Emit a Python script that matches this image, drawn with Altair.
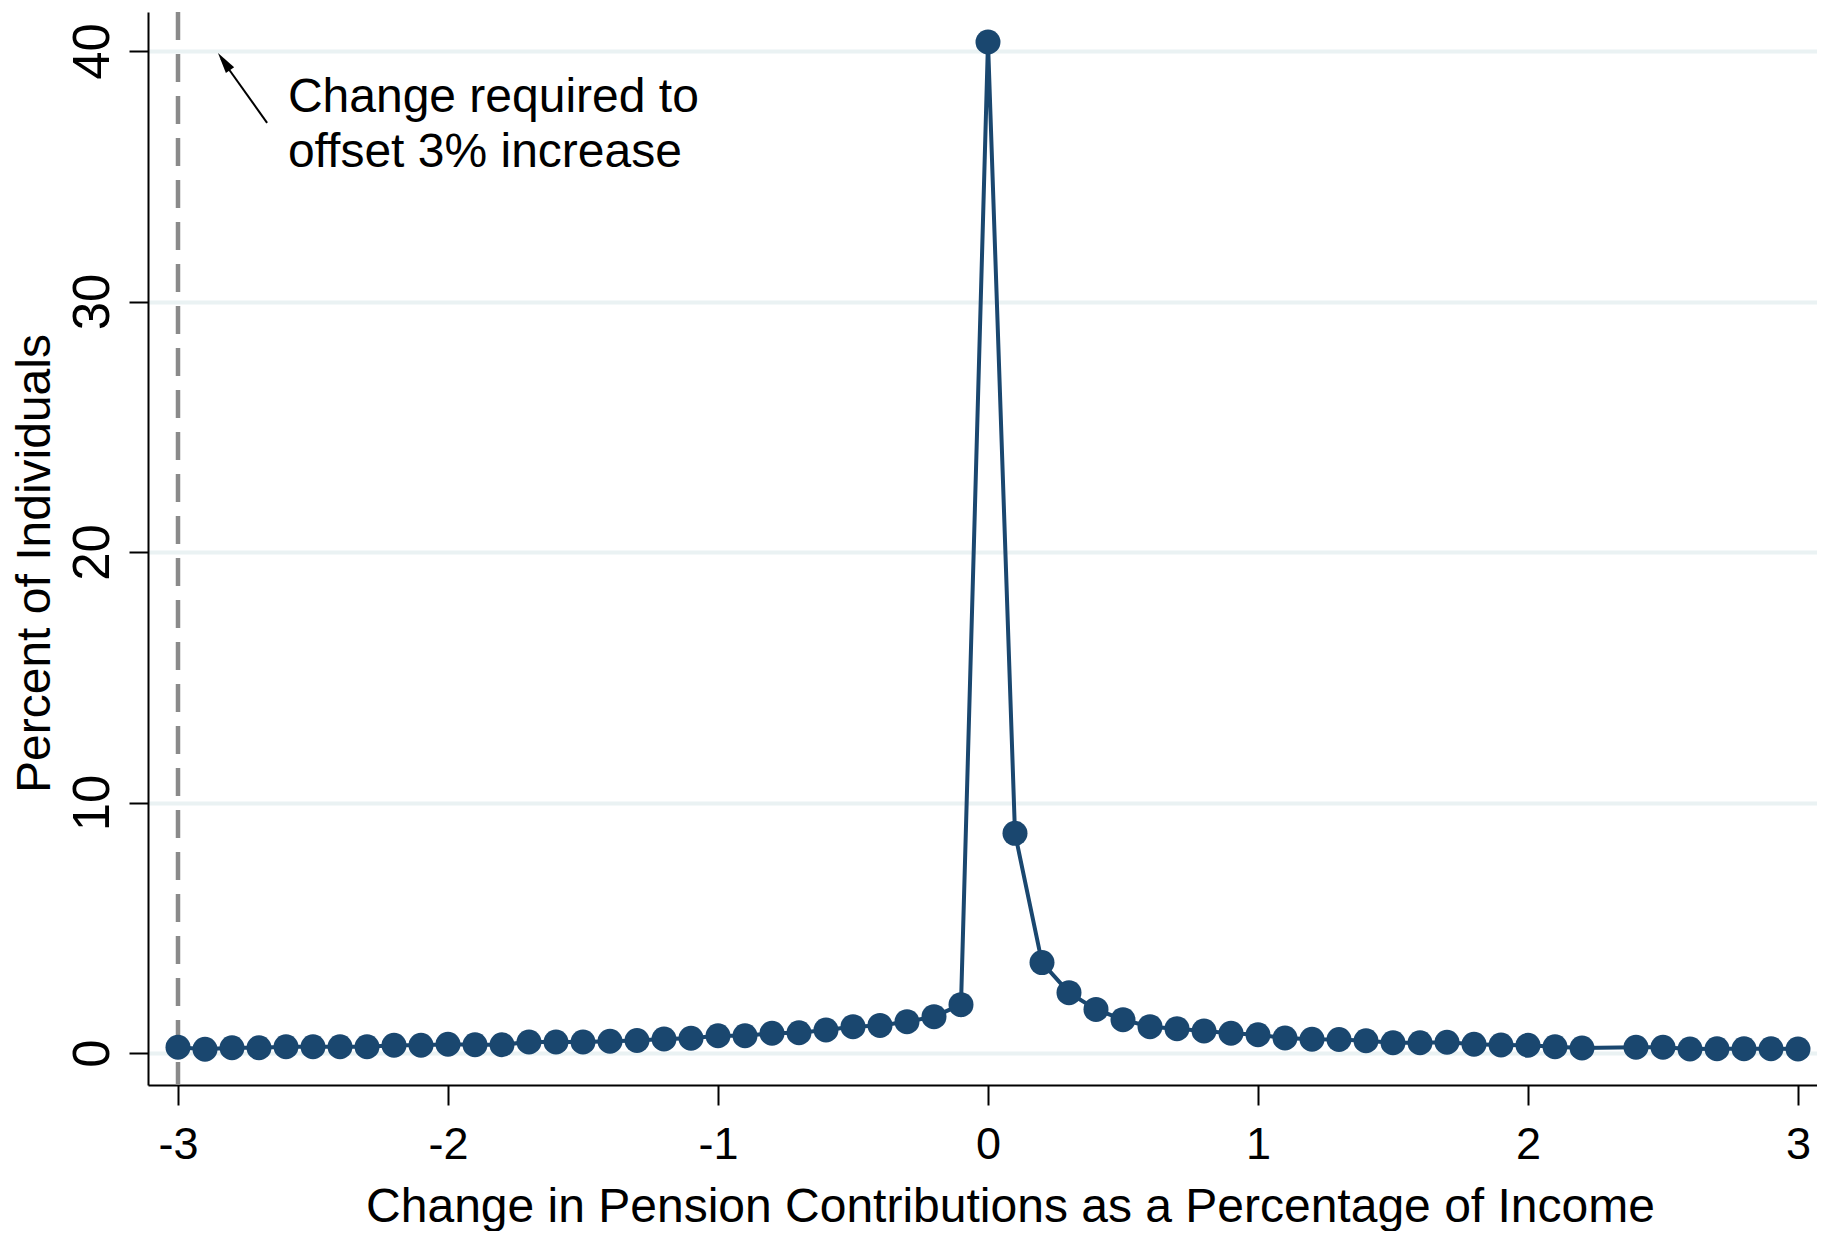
import altair as alt
import pandas as pd

# Data
x_vals = [-3.0, -2.9, -2.8, -2.7, -2.6, -2.5, -2.4, -2.3, -2.2, -2.1,
          -2.0, -1.9, -1.8, -1.7, -1.6, -1.5, -1.4, -1.3, -1.2, -1.1,
          -1.0, -0.9, -0.8, -0.7, -0.6, -0.5, -0.4, -0.3, -0.2, -0.1,
          0.0, 0.1, 0.2, 0.3, 0.4, 0.5, 0.6, 0.7, 0.8, 0.9,
          1.0, 1.1, 1.2, 1.3, 1.4, 1.5, 1.6, 1.7, 1.8, 1.9,
          2.0, 2.1, 2.2, 2.4, 2.5, 2.6, 2.7, 2.8, 2.9, 3.0]
pct_vals = [0.23, 0.15, 0.21, 0.21, 0.25, 0.25, 0.25, 0.25, 0.31, 0.31,
            0.35, 0.33, 0.33, 0.44, 0.44, 0.44, 0.47, 0.50, 0.56, 0.59,
            0.69, 0.69, 0.79, 0.81, 0.92, 1.05, 1.10, 1.25, 1.45, 1.93,
            40.36, 8.77, 3.61, 2.41, 1.74, 1.33, 1.05, 0.97, 0.88, 0.79,
            0.73, 0.60, 0.55, 0.54, 0.49, 0.41, 0.41, 0.43, 0.35, 0.32,
            0.31, 0.25, 0.20, 0.23, 0.23, 0.16, 0.17, 0.17, 0.17, 0.16]
x_ticks = [-3, -2, -1, 0, 1, 2, 3]
y_ticks = [0, 10, 20, 30, 40]
ref_line_x = [-3.0]
note_lines = ["Change required to", "offset 3% increase"]

X_TITLE = "Change in Pension Contributions as a Percentage of Income"
Y_TITLE = "Percent of Individuals"
NAVY = "#1A476F"
FONT = "Liberation Sans"

df = pd.DataFrame({"x": x_vals, "pct": pct_vals})

xscale = alt.Scale(domain=[-3.1111, 3.0704], nice=False, zero=False)
yscale = alt.Scale(domain=[-1.277, 41.557], nice=False, zero=False)

hyphen_labels = "datum.value < 0 ? '-' + abs(datum.value) : '' + datum.value"

x_axis = alt.Axis(
    title=X_TITLE, values=x_ticks, labelExpr=hyphen_labels, grid=False,
    labelFontSize=45, labelColor="black", labelFont=FONT,
    labelBaseline="alphabetic", labelPadding=53, labelFlush=False, labelOverlap=False,
    tickSize=20, tickWidth=2, tickColor="black",
    domainColor="black", domainWidth=2,
    titleFontSize=48, titleFont=FONT, titleColor="black", titleFontWeight="normal",
    titleX=862, titleY=136, titleAlign="center", titleBaseline="alphabetic",
)
y_axis = alt.Axis(
    title=Y_TITLE, values=y_ticks, labelExpr=hyphen_labels,
    grid=True, gridColor="#EAF2F3", gridWidth=4,
    labelFontSize=51, labelColor="black", labelFont=FONT, labelAngle=270,
    labelAlign="center", labelBaseline="alphabetic", labelPadding=21,
    labelOverlap=False, labelFlush=False,
    tickSize=19, tickWidth=2, tickColor="black",
    domainColor="black", domainWidth=2,
    titleFontSize=48, titleFont=FONT, titleColor="black", titleFontWeight="normal",
    titleAngle=270, titleX=-99, titleY=551, titleAlign="center", titleBaseline="alphabetic",
)

ref_rule = alt.Chart(pd.DataFrame({"x": ref_line_x})).mark_rule(
    color="#8A8A8A", strokeWidth=4.5, strokeDash=[28, 14]
).encode(x=alt.X("x:Q", scale=xscale, axis=x_axis))

line = alt.Chart(df).mark_line(color=NAVY, strokeWidth=4).encode(
    x=alt.X("x:Q", scale=xscale, axis=None),
    y=alt.Y("pct:Q", scale=yscale, axis=y_axis),
)
points = alt.Chart(df).mark_point(
    shape="circle", filled=True, color=NAVY, size=625, opacity=1
).encode(
    x=alt.X("x:Q", scale=xscale, axis=None),
    y=alt.Y("pct:Q", scale=yscale, axis=None),
)

# Annotation arrow (data coordinates)
arrow_df = pd.DataFrame({"x": [-2.670], "y": [37.13], "x2": [-2.840], "y2": [39.70]})
arrow_line = alt.Chart(arrow_df).mark_rule(color="black", strokeWidth=2).encode(
    x=alt.X("x:Q", scale=xscale, axis=None), y=alt.Y("y:Q", scale=yscale, axis=None),
    x2="x2:Q", y2="y2:Q",
)
head_df = pd.DataFrame({"x": [-2.8296], "y": [39.58]})
arrow_head = alt.Chart(head_df).mark_point(
    shape="M0,-1L-0.48,1L0.48,1Z", filled=True, color="black", size=441, angle=325, opacity=1
).encode(
    x=alt.X("x:Q", scale=xscale, axis=None), y=alt.Y("y:Q", scale=yscale, axis=None),
)

note_df = pd.DataFrame({"label": note_lines, "x": [-2.593, -2.593], "y": [37.56, 35.37]})
note = alt.Chart(note_df).mark_text(
    align="left", baseline="alphabetic", fontSize=48, font=FONT, color="black"
).encode(
    x=alt.X("x:Q", scale=xscale, axis=None), y=alt.Y("y:Q", scale=yscale, axis=None),
    text="label:N",
)

chart = alt.layer(ref_rule, line, points, arrow_line, arrow_head, note).resolve_axis(
    x="independent", y="independent"
).properties(
    width=1669, height=1073,
    padding={"left": 140, "top": 4, "right": 0, "bottom": 146},
    autosize=alt.AutoSizeParams(type="none"),
    background="white",
).configure_view(stroke=None)

chart.save("out.html", embed_options={"renderer": "svg", "actions": False})
